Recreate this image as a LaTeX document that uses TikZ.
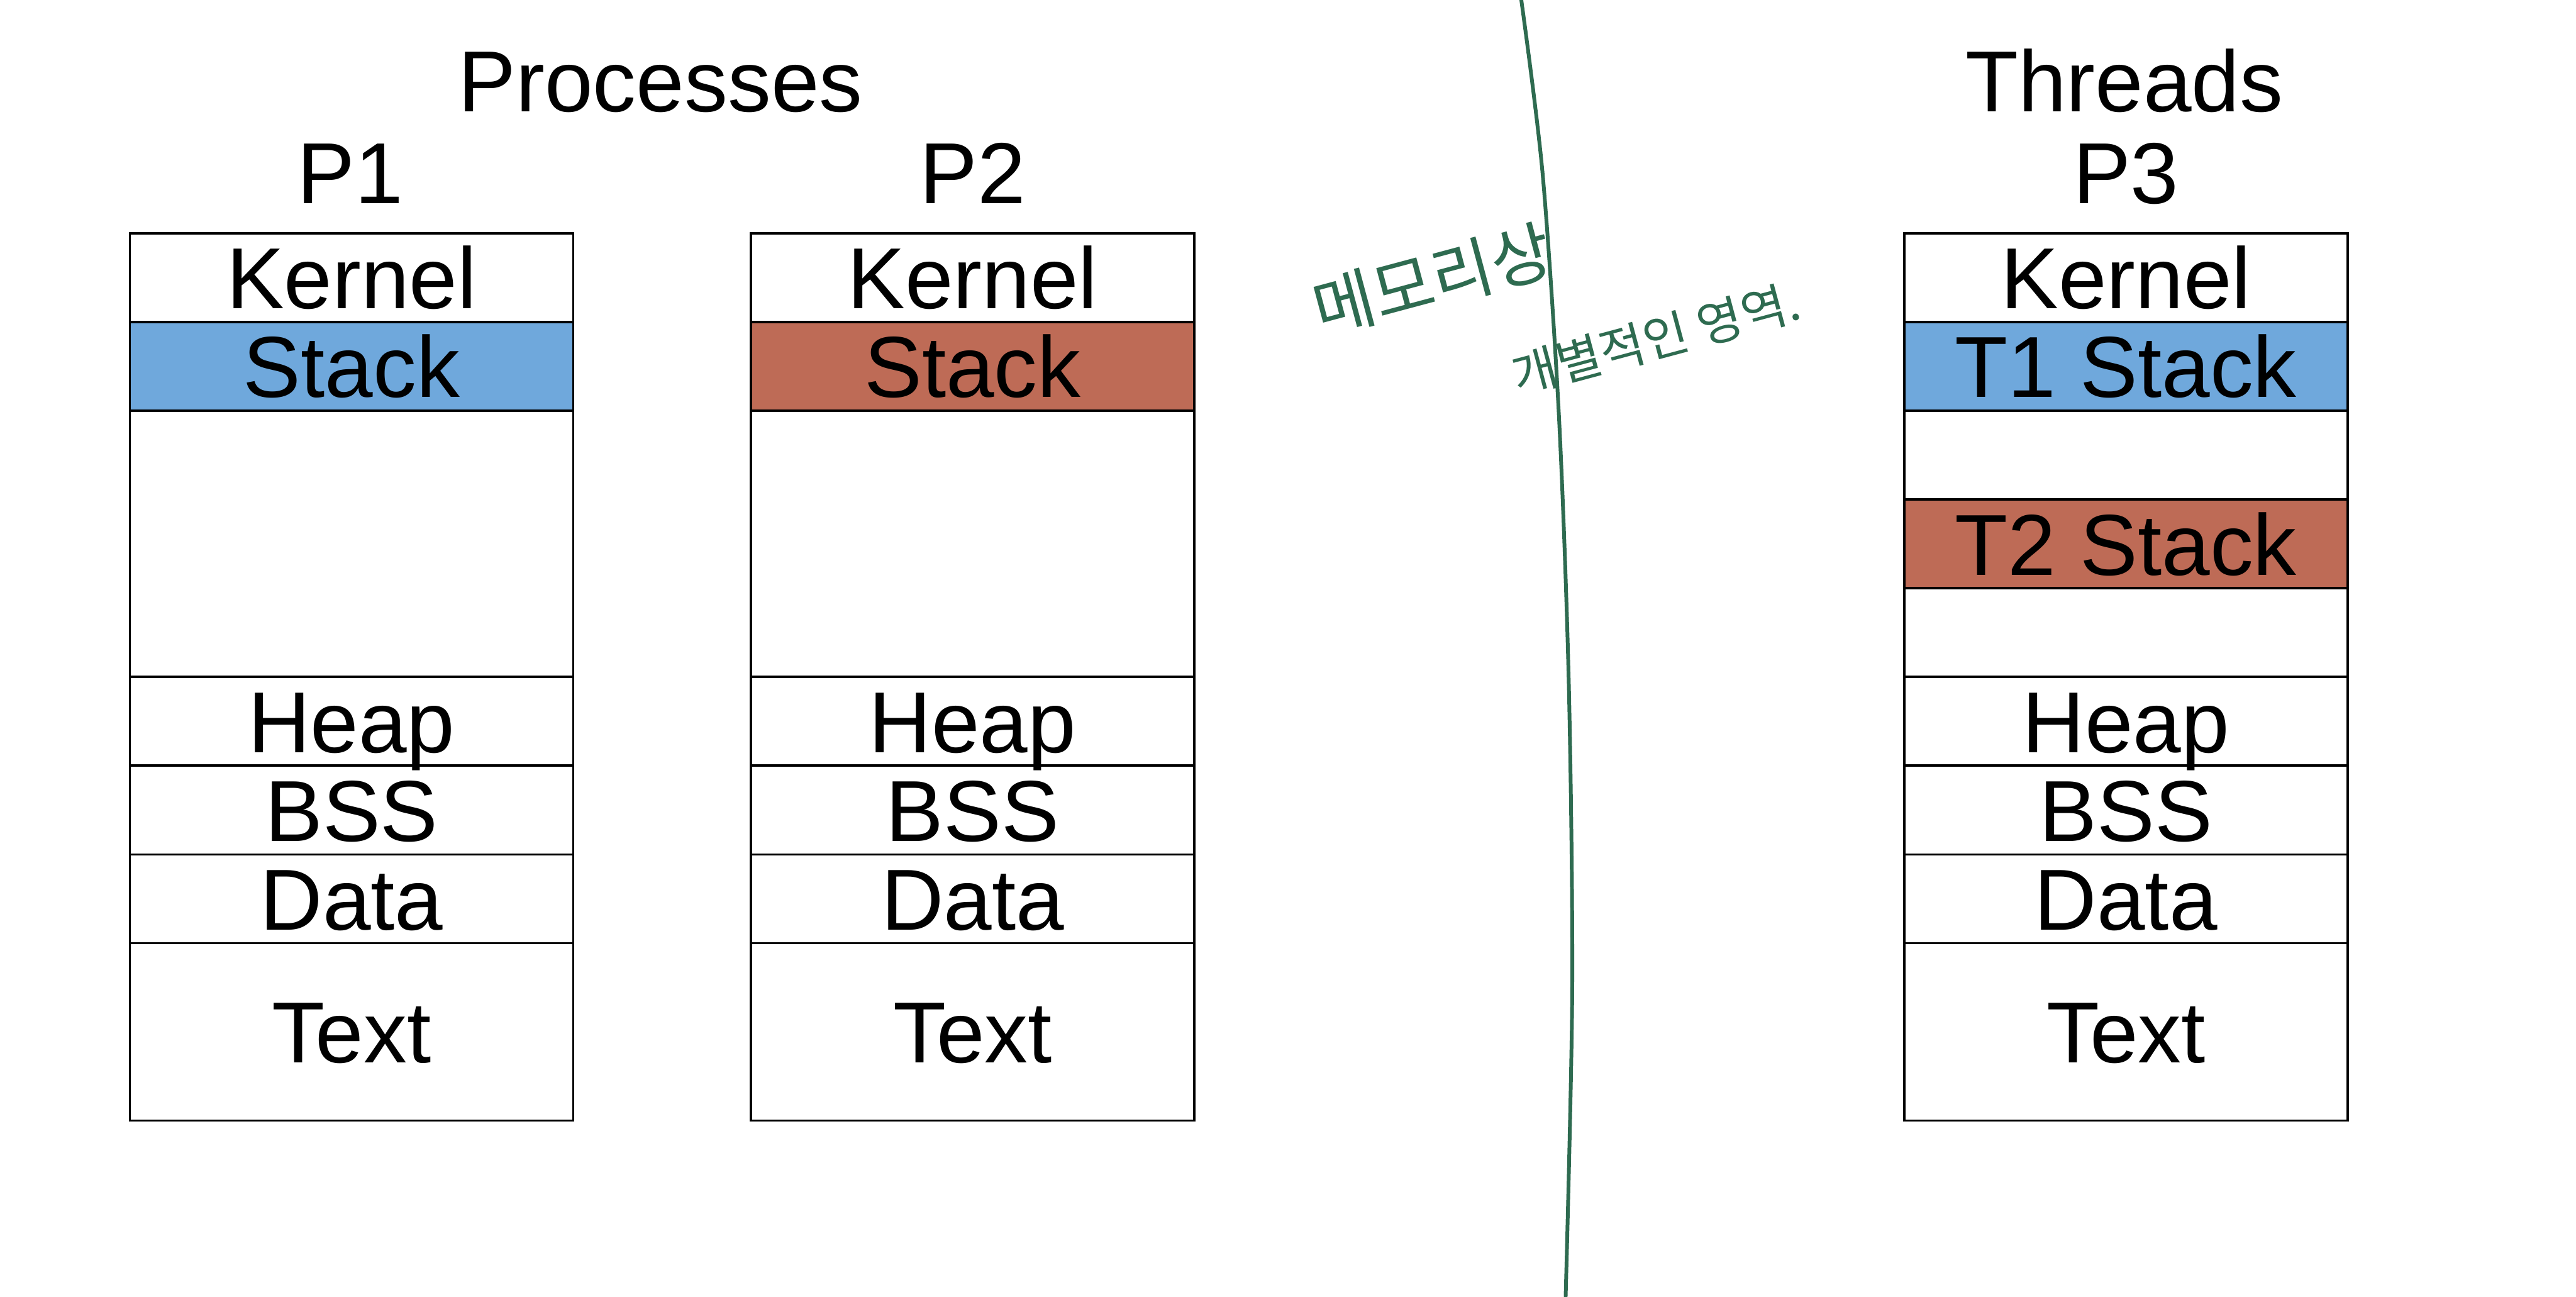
\documentclass[tikz,border=0pt]{standalone}
\usepackage{fontspec}
\setmainfont{Liberation Sans}
\newfontfamily\krfont{Noto Sans CJK KR}
\definecolor{stackblue}{RGB}{111,168,220}
\definecolor{stackred}{RGB}{190,107,86}
\definecolor{penGreen}{RGB}{46,107,80}
\begin{document}
\begin{tikzpicture}[x=0.02cm,y=-0.02cm,
  cell/.style={draw=black, line width=0.8pt, minimum width=5.4cm, inner sep=0pt,
    font=\fontsize{30}{36}\selectfont, text height=21.5pt, text depth=0pt},
  r54/.style={cell, minimum height=1.08cm},
  r108/.style={cell, minimum height=2.16cm},
  r162/.style={cell, minimum height=3.24cm},
  title/.style={font=\fontsize{30}{36}\selectfont, inner sep=0pt, text height=21.5pt, text depth=0pt},
  hand/.style={text=penGreen, inner sep=0pt},
  penline/.style={draw=penGreen, line width=1.3pt, line cap=round}]
\fill[white] (0,0) rectangle (1568,789);
\useasboundingbox (0,0) rectangle (1568,789);

% titles
\node[title] (tproc) at (402,49) {Processes};
\node[title] (tthr) at (1293,49) {Threads};
\node[title] (tp1) at (213,105) {P1};
\node[title] (tp2) at (592,105) {P2};
\node[title] (tp3) at (1294,105) {P3};

% process columns
\foreach \c/\x/\col in {p1/214/stackblue, p2/592/stackred}{
  \node[r54] (\c-kernel) at (\x,169) {Kernel};
  \node[r54, fill=\col] (\c-stack) at (\x,223) {Stack};
  \node[r162] (\c-free) at (\x,331) {};
  \node[r54] (\c-heap) at (\x,439) {Heap};
  \node[r54] (\c-bss) at (\x,493) {BSS};
  \node[r54] (\c-data) at (\x,547) {Data};
  \node[r108] (\c-text) at (\x,628) {Text};
}

% thread column
\node[r54] (p3-kernel) at (1294,169) {Kernel};
\node[r54, fill=stackblue] (p3-t1) at (1294,223) {T1 Stack};
\node[r54] (p3-free1) at (1294,277) {};
\node[r54, fill=stackred] (p3-t2) at (1294,331) {T2 Stack};
\node[r54] (p3-free2) at (1294,385) {};
\node[r54] (p3-heap) at (1294,439) {Heap};
\node[r54] (p3-bss) at (1294,493) {BSS};
\node[r54] (p3-data) at (1294,547) {Data};
\node[r108] (p3-text) at (1294,628) {Text};

% hand-drawn divider
\draw[penline] plot[smooth] coordinates {(926,0) (939,106) (949,255) (955,420) (957,603) (953,789)};

% handwritten note
\node[hand, rotate=15, font=\krfont\fontsize{23}{26}\selectfont] (note1) at (872,170) {메모리상};
\node[hand, rotate=15, font=\krfont\fontsize{17}{20}\selectfont] (note2) at (1008,206) {개별적인 영역.};
\end{tikzpicture}
\end{document}
